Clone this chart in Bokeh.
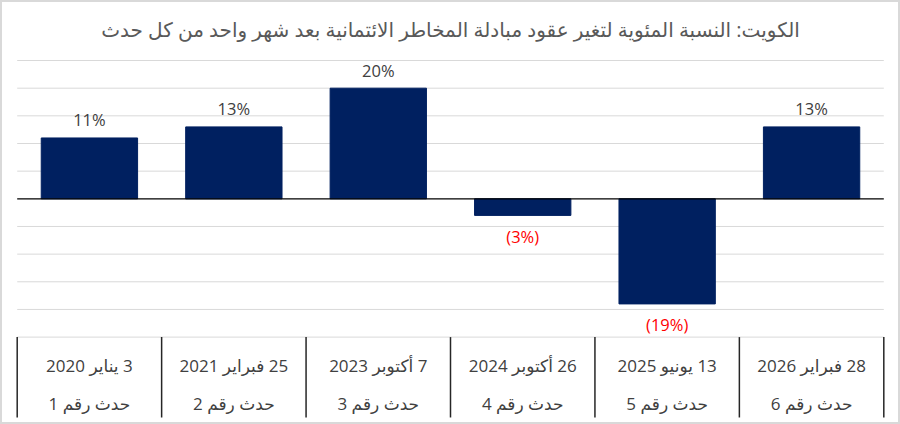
from bokeh.plotting import figure
from bokeh.models import Range1d, ColumnDataSource
from bokeh.core.properties import value
from bokeh.embed import file_html
from bokeh.resources import INLINE

title_text = "الكويت: النسبة المئوية لتغير عقود مبادلة المخاطر الائتمانية بعد شهر واحد من كل حدث"
events = ["حدث رقم 1", "حدث رقم 2", "حدث رقم 3", "حدث رقم 4", "حدث رقم 5", "حدث رقم 6"]
dates = ["3 يناير 2020", "25 فبراير 2021", "7 أكتوبر 2023", "26 أكتوبر 2024", "13 يونيو 2025", "28 فبراير 2026"]
changes = [11, 13, 20, -3, -19, 13]
value_labels = ["11%", "13%", "20%", "(3%)", "(19%)", "13%"]
grid_ticks = [25, 20, 15, 10, 5, -5, -10, -15, -20, -25]

FONT = value("Open Sans, DejaVu Sans")
BAR = "#002060"
TXT = "#404040"
GRID = "#d9d9d9"

n = len(events)
centers = [i + 0.5 for i in range(n)]   # category slots on a linear scale

p = figure(width=900, height=424,
           x_range=Range1d(-0.1156, n + 0.1156), y_range=Range1d(-40.8, 35.85),
           output_backend="svg", toolbar_location=None,
           min_border_left=0, min_border_right=0, min_border_top=0, min_border_bottom=0)
p.axis.visible = False
p.grid.visible = False
p.outline_line_color = GRID
p.outline_line_width = 3
p.background_fill_color = "white"
p.border_fill_color = "white"

# horizontal gridlines (only across the plot area)
p.segment(x0=[0] * len(grid_ticks), x1=[n] * len(grid_ticks), y0=grid_ticks, y1=grid_ticks,
          line_color=GRID, line_width=1)

src = ColumnDataSource(dict(x=centers, top=changes, cat=events))
p.vbar(x="x", top="top", bottom=0, width=0.667, source=src, fill_color=BAR, line_color=BAR)

# zero line
p.segment(x0=[0], x1=[n], y0=[0], y1=[0], line_color="black", line_width=1.3)

pos = [i for i, v in enumerate(changes) if v >= 0]
neg = [i for i, v in enumerate(changes) if v < 0]
p.text(x=[centers[i] for i in pos], y=[changes[i] for i in pos], text=[value_labels[i] for i in pos],
       text_align="center", text_baseline="middle", y_offset=-18,
       text_font=FONT, text_font_size="16.5px", text_color=TXT)
p.text(x=[centers[i] for i in neg], y=[changes[i] for i in neg], text=[value_labels[i] for i in neg],
       text_align="center", text_baseline="middle", y_offset=21,
       text_font=FONT, text_font_size="16.5px", text_color="#ff0000")

# table below the chart
bounds = list(range(n + 1))
p.segment(x0=bounds, x1=bounds, y0=[-25] * len(bounds), y1=[-39.53] * len(bounds),
          line_color="#262626", line_width=1.5)
p.text(x=centers, y=[-30.1] * n, text=["\u200f" + d for d in dates],
       text_align="center", text_baseline="middle",
       text_font=FONT, text_font_size="17px", text_color=TXT)
p.text(x=centers, y=[-37.0] * n, text=events,
       text_align="center", text_baseline="middle",
       text_font=FONT, text_font_size="17px", text_color=TXT)

# title
p.text(x=[n / 2], y=[30.6], text=[title_text],
       text_align="center", text_baseline="middle",
       text_font=FONT, text_font_size="20px", text_color="#595959")

open("out.html", "w").write(file_html(p, INLINE))
